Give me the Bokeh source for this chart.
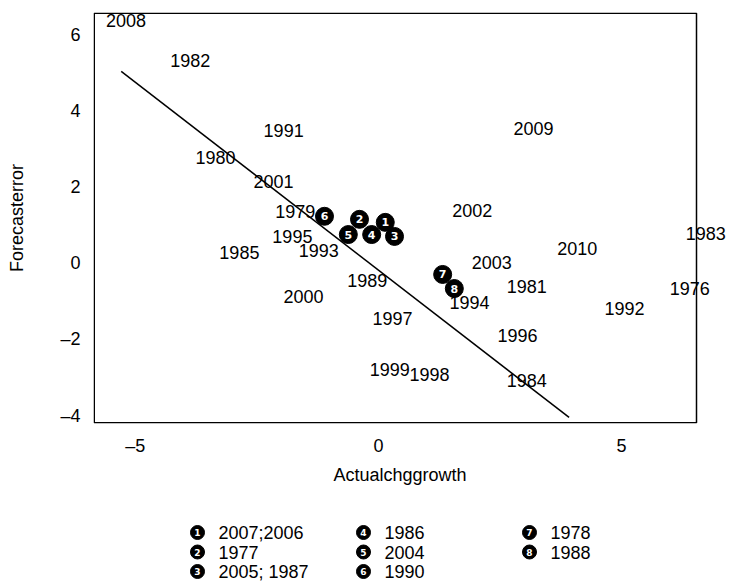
from bokeh.plotting import figure
from bokeh.models import (ColumnDataSource, LabelSet, Range1d, FixedTicker, BoxAnnotation, Title,
                          CustomJSTickFormatter)
from bokeh.core.properties import value
from bokeh.embed import file_html
from bokeh.resources import INLINE

# ---- data ----
year_labels = ["2008", "1982", "1991", "1980", "2001", "1979", "1995", "1985",
               "1993", "2002", "2003", "1989", "1994", "2000", "1997", "1999",
               "1998", "2009", "2010", "1981", "1992", "1976", "1983", "1996", "1984"]
year_x = [-5.19, -3.87, -1.95, -3.35, -2.16, -1.71, -1.77, -2.86,
          -1.23, 1.93, 2.33, -0.23, 1.87, -1.54, 0.29, 0.23,
          1.05, 3.19, 4.09, 3.05, 5.06, 6.40, 6.73, 2.86, 3.05]
year_y = [6.39, 5.34, 3.50, 2.79, 2.16, 1.37, 0.71, 0.29,
          0.34, 1.39, 0.03, -0.45, -1.03, -0.87, -1.45, -2.79,
          -2.92, 3.55, 0.39, -0.61, -1.18, -0.66, 0.79, -1.89, -3.08]

cluster_num = ["1", "2", "3", "4", "5", "6", "7", "8"]
cluster_x = [0.14, -0.39, 0.33, -0.14, -0.62, -1.11, 1.32, 1.56]
cluster_y = [1.08, 1.16, 0.71, 0.76, 0.76, 1.24, -0.29, -0.66]

fit_x = [-5.29, 3.92]
fit_y = [5.05, -4.05]

legend_num = ["1", "2", "3", "4", "5", "6", "7", "8"]
legend_years = ["2007;2006", "1977", "2005; 1987", "1986", "2004", "1990", "1978", "1988"]

x_ticks = [-5, 0, 5]
y_ticks = [-4, -2, 0, 2, 4, 6]
minus_sign = "\u2013"

x_title = "Actualchggrowth"
y_title = "Forecasterror"

# plot-region (box) limits in data units
X_LO, X_BOX_HI = -5.86, 6.54
Y_LO, Y_HI = -4.21, 6.6

FONT = "Liberation Sans"

# ---- layout constants (pixels) ----
W = 729
FRAME_L, FRAME_T, FRAME_B = 93, 12, 423
BOX_R = 696
MAIN_H = 500
LEG_H = 584 - MAIN_H
X_TITLE_LEFT = 333
px_per_x = (BOX_R - FRAME_L) / (X_BOX_HI - X_LO)
px_per_y = (FRAME_B - FRAME_T) / (Y_HI - Y_LO)
X_HI = X_LO + (W - FRAME_L) / px_per_x   # frame runs to the page edge so labels may overflow the box

p = figure(width=W, height=MAIN_H,
           x_range=Range1d(X_LO, X_HI), y_range=Range1d(Y_LO, Y_HI),
           output_backend="svg", toolbar_location=None,
           min_border_left=FRAME_L, min_border_right=0,
           min_border_top=FRAME_T, min_border_bottom=MAIN_H - FRAME_B,
           background_fill_color="white", border_fill_color="white")
p.xgrid.visible = False
p.ygrid.visible = False
p.outline_line_color = None

# the visible plot-region box (inset by half a line so it is not clipped)
lw = 1.5
p.add_layout(BoxAnnotation(left=X_LO + (lw / 2) / px_per_x, right=X_BOX_HI,
                           bottom=Y_LO + (lw / 2) / px_per_y, top=Y_HI - (lw / 2) / px_per_y,
                           fill_alpha=0, line_color="black", line_width=lw, line_alpha=1.0,
                           level="underlay"))

fmt_code = "return (tick < 0 ? MINUS + Math.abs(tick) : String(tick));".replace("MINUS", repr(minus_sign))
for ax in (p.xaxis[0], p.yaxis[0]):
    ax.axis_line_color = None
    ax.major_tick_line_color = None
    ax.minor_tick_line_color = None
    ax.major_tick_out = 0
    ax.major_tick_in = 0
    ax.minor_tick_out = 0
    ax.major_label_text_font = FONT
    ax.major_label_text_font_size = "18px"
    ax.major_label_text_color = "black"
    ax.axis_label_text_font = FONT
    ax.axis_label_text_font_size = "18px"
    ax.axis_label_text_font_style = "normal"
    ax.axis_label_text_color = "black"
    ax.formatter = CustomJSTickFormatter(code=fmt_code)

p.xaxis.ticker = FixedTicker(ticks=x_ticks)
p.yaxis.ticker = FixedTicker(ticks=y_ticks)
p.yaxis.axis_label = y_title
p.xaxis.major_label_standoff = 12
p.yaxis.major_label_standoff = 13
p.yaxis.axis_label_standoff = 30

# x title placed over the box (the frame itself is wider than the box)
p.add_layout(Title(text=x_title, align="left", offset=X_TITLE_LEFT - FRAME_L,
                   text_font=FONT, text_font_size="18px", text_font_style="normal",
                   text_color="black", standoff=8), "below")

# fit line
p.line(fit_x, fit_y, line_color="black", line_width=1.5)

# year labels
ysrc = ColumnDataSource(dict(x=year_x, y=year_y, label=year_labels))
p.add_layout(LabelSet(x="x", y="y", text="label", source=ysrc,
                      text_align="center", text_baseline="middle",
                      text_font=value(FONT), text_font_size=value("18px"),
                      text_color="black"))

# numbered circles
csrc = ColumnDataSource(dict(x=cluster_x, y=cluster_y, n=cluster_num))
p.scatter("x", "y", source=csrc, size=18, marker="circle",
          fill_color="black", line_color="black")
p.text("x", "y", text="n", source=csrc, text_color="white",
       text_font=value("DejaVu Sans"), text_font_size=value("11px"),
       text_font_style="bold", text_align="center", text_baseline="middle")

# ---- key block below the plot (3 columns x 3 rows), its own canvas ----
leg = figure(width=W, height=LEG_H, x_range=Range1d(0, W), y_range=Range1d(0, LEG_H),
             output_backend="svg", toolbar_location=None, min_border=0,
             background_fill_color="white", border_fill_color="white")
leg.axis.visible = False
leg.xgrid.visible = False
leg.ygrid.visible = False
leg.outline_line_color = None

col_x0, col_dx, text_gap = 197, 166, 21
row_top0, row_dy = 532 - MAIN_H, 19.5
lx, ly, tx = [], [], []
for i in range(len(legend_num)):
    c, r = divmod(i, 3)
    lx.append(col_x0 + c * col_dx)
    ly.append(LEG_H - (row_top0 + r * row_dy))
    tx.append(col_x0 + c * col_dx + text_gap)
lsrc = ColumnDataSource(dict(x=lx, y=ly, tx=tx, n=legend_num, yr=legend_years))
leg.scatter("x", "y", source=lsrc, size=14, marker="circle",
            fill_color="black", line_color="black")
leg.text("x", "y", text="n", source=lsrc, text_color="white",
         text_font=value("DejaVu Sans"), text_font_size=value("9px"),
         text_font_style="bold", text_align="center", text_baseline="middle")
leg.text("tx", "y", text="yr", source=lsrc, text_color="black",
         text_font=value(FONT), text_font_size=value("18px"),
         text_align="left", text_baseline="middle")

open("out.html", "w").write(file_html([p, leg], INLINE))
